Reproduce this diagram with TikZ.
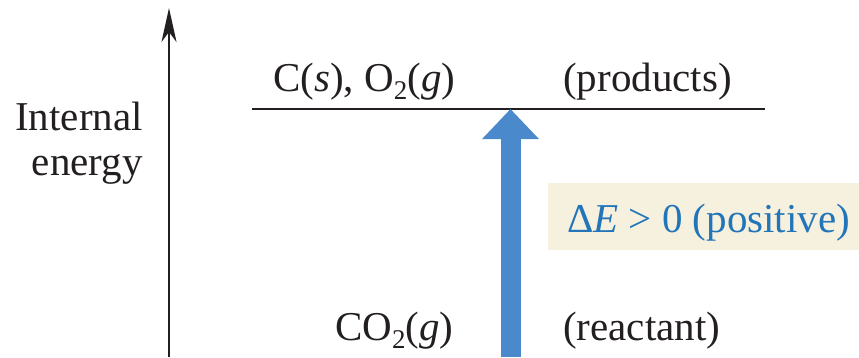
\documentclass[tikz,border=0pt]{standalone}
\usepackage{fontspec}
\setmainfont{Liberation Serif}
\usepackage{xcolor}
\usetikzlibrary{arrows.meta,positioning}
\definecolor{arrowblue}{RGB}{74,137,204}
\definecolor{labelblue}{RGB}{34,117,184}
\definecolor{boxbeige}{RGB}{246,240,222}
\definecolor{inkgray}{RGB}{35,31,32}
\newcommand{\lowtwo}{\raisebox{-0.2em}{\fontsize{27}{27}\selectfont 2}}

\begin{document}
\begin{tikzpicture}[x=1pt,y=-1pt,lbl/.style={inner sep=0pt,anchor=base west,text=inkgray,
font=\fontsize{41}{45}\selectfont},level/.style={draw=inkgray,line width=2pt},
axis/.style={draw=inkgray,line width=2pt,-{Stealth[length=34pt,width=15pt,inset=10pt]}},
rise/.style={draw=arrowblue,line width=20pt,-{Triangle[length=30pt,width=55pt]}}]
\useasboundingbox (0,0) rectangle (859,357);
% energy axis
\coordinate (axbot) at (169,357);\coordinate (axtop) at (169,8);
\draw[axis] (axbot)--(axtop);
\node[lbl,anchor=base east,align=right] (ylab) at (143,175) {Internal\\energy};
% upper level, products
\coordinate (upL) at (252,109);\coordinate (upR) at (765,109);
\draw[level] (upL)--(upR);
\node[lbl] (prodspec) at (273,91) {C(\textit{s}), O\lowtwo(\textit{g})};
\node[lbl] (prodtag) at (563,91) {(products)};
% lower level, reactant (line lies below the frame)
\node[lbl] (reacspec) at (335,340) {CO\lowtwo(\textit{g})};
\node[lbl] (reactag) at (563,340) {(reactant)};
% change in energy
\coordinate (risebot) at (510.5,357);\coordinate (risetop) at (510.5,109);
\draw[rise] (risebot)--(risetop);
\node[lbl,text=labelblue,fill=boxbeige,inner xsep=19pt,inner ysep=0pt,text height=49pt,
text depth=18pt,anchor=base west] (dE) at (548,232) {Δ\textit{E} > 0 (positive)};
\end{tikzpicture}
\end{document}
